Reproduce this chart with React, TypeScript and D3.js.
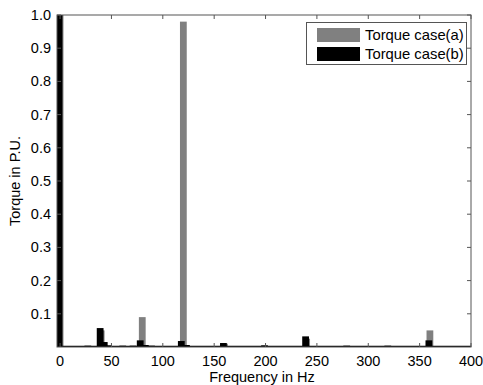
import React, { useEffect, useRef } from "react";
import * as d3 from "d3";

// harmonic frequencies (Hz) and torque magnitudes (p.u.)
const freqA = [0, 40, 80, 120, 160, 240, 360];
const torqueA = [1.2, 0.05, 0.09, 0.98, 0.01, 0.025, 0.05];

const freqB = [0, 5, 10, 20, 28, 35, 40, 44, 48, 55, 62, 72, 79, 84, 90, 95, 108, 119, 124, 160, 200, 240, 280, 320, 360, 380];
const torqueB = [1.2, 0.002, 0.003, 0.002, 0.004, 0.003, 0.057, 0.015, 0.005, 0.003, 0.004, 0.004, 0.02, 0.006, 0.004, 0.003, 0.002, 0.018, 0.006, 0.012, 0.005, 0.032, 0.004, 0.004, 0.02, 0.002];

const xTicks = [0, 50, 100, 150, 200, 250, 300, 350, 400];
const yTicks = [0.1, 0.2, 0.3, 0.4, 0.5, 0.6, 0.7, 0.8, 0.9, 1.0];
const seriesNames = ["Torque case(a)", "Torque case(b)"];

const App = () => {
  const ref = useRef<SVGSVGElement>(null);

  useEffect(() => {
    drawChart();
  }, []);

  const drawChart = () => {
    const w = 483;
    const h = 385;
    const left = 57, right = 471, top = 15, bottom = 347;
    const barW = 6.6; // in Hz
    const font = "Liberation Sans, Arial, sans-serif";

    const svg = d3.select(ref.current);
    svg.selectAll("*").remove();
    svg.attr("width", w).attr("height", h);

    svg.append("rect").attr("width", w).attr("height", h).attr("fill", "#fff");

    const x = d3.scaleLinear().domain([-3, 400]).range([left, right]);
    const y = d3.scaleLinear().domain([0, 1]).range([bottom, top]);

    svg.append("clipPath").attr("id", "plotClip")
      .append("rect").attr("x", left).attr("y", top).attr("width", right - left).attr("height", bottom - top);

    const plot = svg.append("g").attr("clip-path", "url(#plotClip)");

    const drawBars = (freqs: number[], vals: number[], color: string, shift: number) => {
      plot.selectAll(null)
        .data(freqs)
        .enter()
        .append("rect")
        .attr("x", (d) => x(d + shift - barW / 2))
        .attr("width", (d) => x(d + barW / 2) - x(d - barW / 2))
        .attr("y", (d, i) => y(vals[i]))
        .attr("height", (d, i) => bottom - y(vals[i]))
        .attr("fill", color);
    };

    drawBars(freqA, torqueA, "#808080", 0);
    drawBars(freqB, torqueB, "#000", -1);

    // baseline
    plot.append("line")
      .attr("x1", left).attr("x2", right)
      .attr("y1", bottom - 0.5).attr("y2", bottom - 0.5)
      .attr("stroke", "#000").attr("stroke-width", 1.5);

    // box
    svg.append("rect")
      .attr("x", left).attr("y", top)
      .attr("width", right - left).attr("height", bottom - top)
      .attr("fill", "none").attr("stroke", "#555").attr("stroke-width", 1);

    // inward ticks
    const tl = 4;
    xTicks.forEach((t) => {
      svg.append("line").attr("x1", x(t)).attr("x2", x(t)).attr("y1", bottom).attr("y2", bottom - tl).attr("stroke", "#555");
      svg.append("line").attr("x1", x(t)).attr("x2", x(t)).attr("y1", top).attr("y2", top + tl).attr("stroke", "#555");
      svg.append("text")
        .attr("x", x(t)).attr("y", bottom + 19)
        .attr("text-anchor", "middle")
        .attr("font-family", font).attr("font-size", 14.5)
        .text(t);
    });
    yTicks.forEach((t) => {
      svg.append("line").attr("x1", left).attr("x2", left + tl).attr("y1", y(t)).attr("y2", y(t)).attr("stroke", "#555");
      svg.append("line").attr("x1", right).attr("x2", right - tl).attr("y1", y(t)).attr("y2", y(t)).attr("stroke", "#555");
      svg.append("text")
        .attr("x", left - 6).attr("y", y(t) + 5)
        .attr("text-anchor", "end")
        .attr("font-family", font).attr("font-size", 14.5)
        .text(d3.format(".1f")(t));
    });

    svg.append("text")
      .attr("x", (left + right) / 2 - 2).attr("y", bottom + 35)
      .attr("text-anchor", "middle")
      .attr("font-family", font).attr("font-size", 14.5)
      .text("Frequency in Hz");

    svg.append("text")
      .attr("transform", "translate(20," + (top + bottom) / 2 + ") rotate(-90)")
      .attr("text-anchor", "middle")
      .attr("font-family", font).attr("font-size", 14.5)
      .text("Torque in P.U.");

    // legend
    const lg = svg.append("g");
    lg.append("rect")
      .attr("x", 306.5).attr("y", 22.5).attr("width", 160).attr("height", 42)
      .attr("fill", "#fff").attr("stroke", "#555");
    const colors = ["#808080", "#000"];
    seriesNames.forEach((name, i) => {
      lg.append("rect")
        .attr("x", 317).attr("y", 28 + i * 19).attr("width", 43).attr("height", 14)
        .attr("fill", colors[i]);
      lg.append("text")
        .attr("x", 365).attr("y", 40 + i * 19)
        .attr("font-family", font).attr("font-size", 14.8)
        .text(name);
    });
  };

  return (
    <div style={{ position: "fixed", left: 0, top: 0 }}>
      <svg ref={ref} style={{ display: "block" }}></svg>
    </div>
  );
};

export default App;
